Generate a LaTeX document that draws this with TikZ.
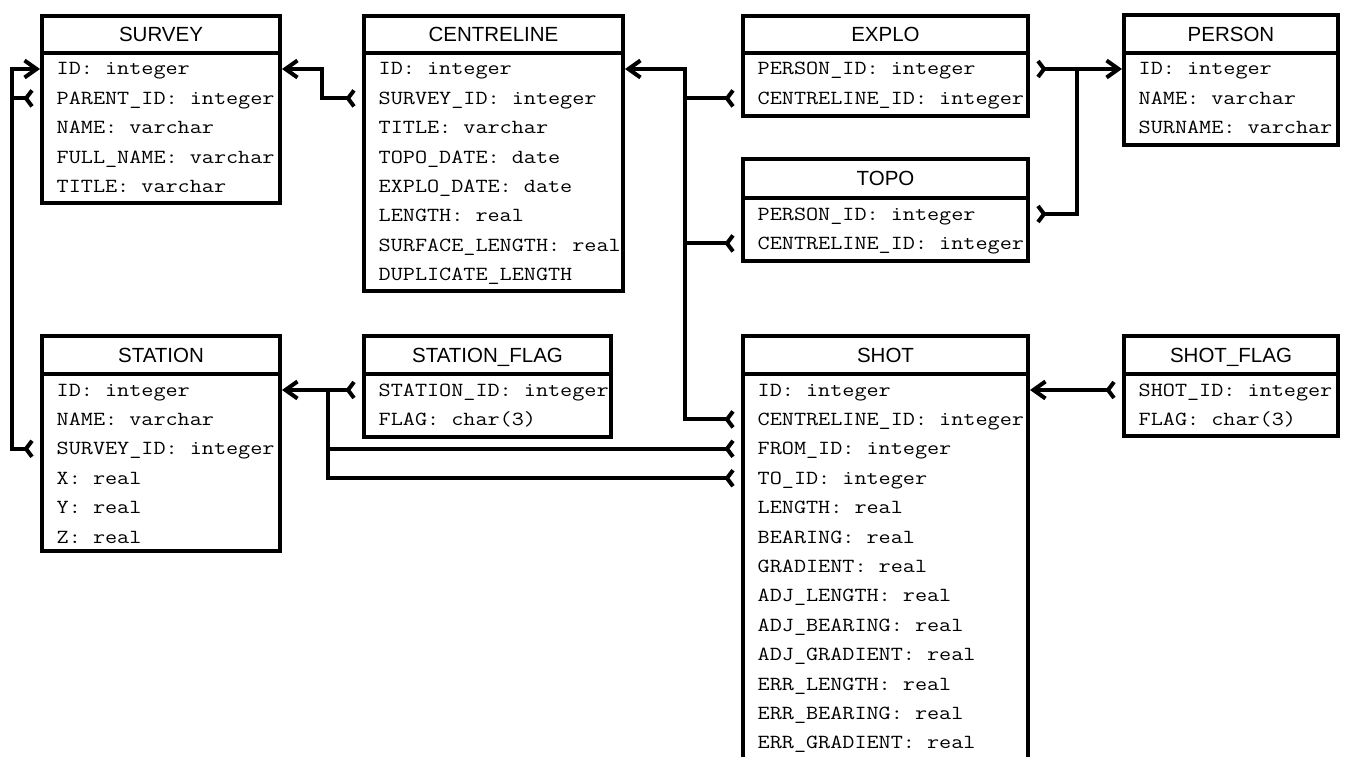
\documentclass[tikz,border=0pt]{standalone}
\usepackage{fontspec}
\usepackage{graphicx}
\setmainfont{Liberation Sans}
\usetikzlibrary{arrows.meta,calc}
\tikzset{
  tbox/.style={draw, line width=4pt, inner sep=0pt},
  tline/.style={line width=4pt},
  ttitle/.style={inner sep=0pt, font=\fontsize{20.5}{21}\selectfont, text height=14.6pt, text depth=0pt},
  trow/.style={anchor=west, inner sep=0pt, font=\ttfamily\fontsize{20}{22}\selectfont, text height=12pt, text depth=0pt},
  conn/.style={line width=4pt},
  one/.tip={Straight Barb[length=12pt,width=17pt]},
  crow/.tip={Straight Barb[reversed,length=6pt,width=16pt]},
  tomany/.style={conn, -{crow}, shorten >=6pt},
  onemany/.style={conn, {one}-{crow}, shorten >=6pt},
}
\newcommand\erTable[8]{%
  \begin{scope}
    \clip (#2,#3) rectangle (#4,#5);
    \foreach \rowtext [count=\i] in {#8}
      \node[trow] (#1-\i) at ({(#2)+14.5},{(#6)+16+(\i-1)*29.4}) {\scalebox{1.175}[1]{\rowtext}};
  \end{scope}
  \node[tbox, minimum width={(#4)-(#2)}, minimum height={(#5)-(#3)}] (#1) at ({((#2)+(#4))/2},{((#3)+(#5))/2}) {};
  \node[ttitle] (#1-title) at ({((#2)+(#4))/2},{((#3)+(#6))/2}) {#7};
  \draw[tline] (#2,#6) -- (#4,#6);
}
\begin{document}
\begin{tikzpicture}[x=1pt,y=-1pt]
\useasboundingbox (0,0) rectangle (1347,757);

\erTable{survey}{42}{16}{280}{203}{53}{SURVEY}{ID: integer, PARENT\_ID: integer, NAME: varchar, FULL\_NAME: varchar, TITLE: varchar}
\erTable{centreline}{364}{16}{623}{291}{53}{CENTRELINE}{ID: integer, SURVEY\_ID: integer, TITLE: varchar, TOPO\_DATE: date, EXPLO\_DATE: date, LENGTH: real, SURFACE\_LENGTH: real, DUPLICATE\_LENGTH}
\erTable{explo}{743}{16}{1028}{116}{53}{EXPLO}{PERSON\_ID: integer, CENTRELINE\_ID: integer}
\erTable{person}{1124}{15}{1338}{145}{53}{PERSON}{ID: integer, NAME: varchar, SURNAME: varchar}
\erTable{topo}{743}{159}{1028}{261}{198}{TOPO}{PERSON\_ID: integer, CENTRELINE\_ID: integer}
\erTable{station}{42}{336}{280}{551}{374}{STATION}{ID: integer, NAME: varchar, SURVEY\_ID: integer, X: real, Y: real, Z: real}
\erTable{stationflag}{364}{336}{611}{437}{374}{STATION\_FLAG}{STATION\_ID: integer, FLAG: char(3)}
\erTable{shot}{743}{336}{1028}{800}{374}{SHOT}{ID: integer, CENTRELINE\_ID: integer, FROM\_ID: integer, TO\_ID: integer, LENGTH: real, BEARING: real, GRADIENT: real, ADJ\_LENGTH: real, ADJ\_BEARING: real, ADJ\_GRADIENT: real, ERR\_LENGTH: real, ERR\_BEARING: real, ERR\_GRADIENT: real}
\erTable{shotflag}{1124}{336}{1338}{436}{374}{SHOT\_FLAG}{SHOT\_ID: integer, FLAG: char(3)}

% junction coordinates
\coordinate (jA) at (survey-2 -| 12,0);
\coordinate (jB) at (explo-2 -| 685,0);
\coordinate (jC) at (topo-2 -| 685,0);
\coordinate (jD) at (person-1 -| 1077,0);
\coordinate (jE) at (station-1 -| 328,0);
\coordinate (jF) at (shot-3 -| 328,0);

% CENTRELINE.SURVEY_ID -> SURVEY.ID
\draw[onemany] (survey-1 -| survey.east) -- (survey-1 -| 322,0) -- (centreline-2 -| 322,0) -- (centreline-2 -| centreline.west);
% SURVEY.PARENT_ID, STATION.SURVEY_ID -> SURVEY.ID
\draw[onemany] (survey-1 -| survey.west) -- (survey-1 -| 12,0) -- (station-3 -| 12,0) -- (station-3 -| station.west);
\draw[tomany] (jA) -- (survey-2 -| survey.west);
% EXPLO/TOPO/SHOT.CENTRELINE_ID -> CENTRELINE.ID
\draw[onemany] (centreline-1 -| centreline.east) -- (centreline-1 -| 685,0) -- (shot-2 -| 685,0) -- (shot-2 -| shot.west);
\draw[tomany] (jB) -- (explo-2 -| explo.west);
\draw[tomany] (jC) -- (topo-2 -| topo.west);
% EXPLO/TOPO.PERSON_ID -> PERSON.ID
\draw[onemany] (person-1 -| person.west) -- (jD) -- (topo-1 -| 1077,0) -- (topo-1 -| topo.east);
\draw[tomany] (jD) -- (explo-1 -| explo.east);
% STATION_FLAG.STATION_ID, SHOT.FROM_ID, SHOT.TO_ID -> STATION.ID
\draw[onemany] (station-1 -| station.east) -- (jE) -- (shot-4 -| 328,0) -- (shot-4 -| shot.west);
\draw[tomany] (jE) -- (stationflag-1 -| stationflag.west);
\draw[tomany] (jF) -- (shot-3 -| shot.west);
% SHOT_FLAG.SHOT_ID -> SHOT.ID
\draw[onemany] (shot-1 -| shot.east) -- (shotflag-1 -| shotflag.west);
\end{tikzpicture}
\end{document}
